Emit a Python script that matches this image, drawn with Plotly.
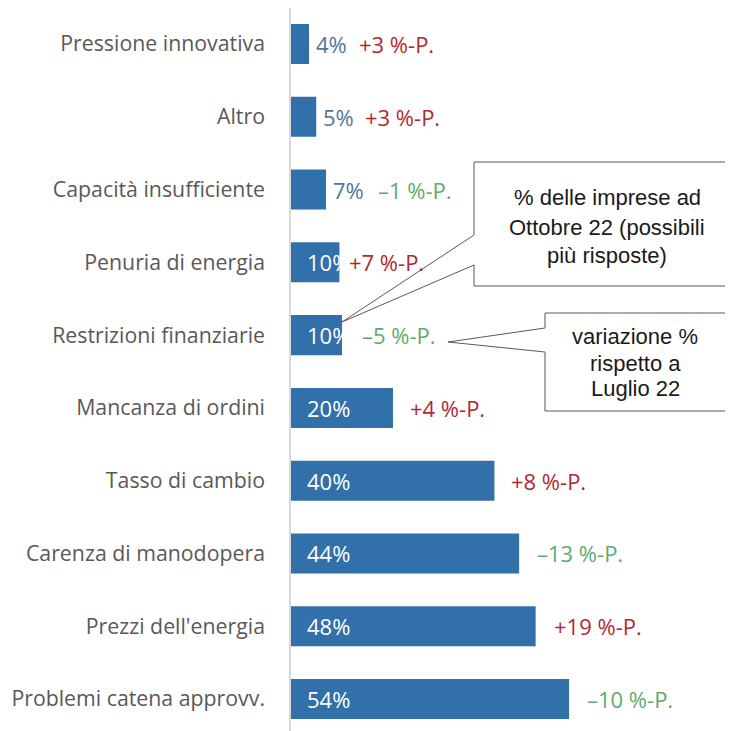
import plotly.graph_objects as go

# ---- data ----
categories = ["Pressione innovativa", "Altro", "Capacità insufficiente", "Penuria di energia",
              "Restrizioni finanziarie", "Mancanza di ordini", "Tasso di cambio",
              "Carenza di manodopera", "Prezzi dell'energia", "Problemi catena approvv."]
share_values = [3.5, 4.9, 6.8, 9.4, 9.9, 19.8, 39.5, 44.3, 47.5, 54.0]
share_labels = ["4%", "5%", "7%", "10%", "10%", "20%", "40%", "44%", "48%", "54%"]
change_values = [3, 3, -1, 7, -5, 4, 8, -13, 19, -10]
change_labels = ["+3 %-P.", "+3 %-P.", "\u20131 %-P.", "+7 %-P.", "\u20135 %-P.",
                 "+4 %-P.", "+8 %-P.", "\u201313 %-P.", "+19 %-P.", "\u201310 %-P."]
callout1_lines = ["% delle imprese ad", "Ottobre 22 (possibili", "più risposte)"]
callout2_lines = ["variazione %", "rispetto a", "Luglio 22"]

# ---- style / layout ----
W, H = 733, 731
OFF = 8                      # page body margin in the browser
ML, MT, MB = 283, 0, 0
PW, PH = W - ML, H - MT - MB
PLOT_LEFT = OFF + ML         # page px
PLOT_TOP = OFF + MT
PLOT_BOTTOM = PLOT_TOP + PH
PX_PER_CAT = 72.78
FIRST_CENTER, LAST_CENTER = 44, 699
BAR = "#3170a8"
RED = "#b3282e"
GREEN = "#5cad6c"
OUT_BLUE = "#52769c"
GRAY = "#595959"
FONT = "Open Sans"
FS = 22
FS_CAT = 21.3
delta_shift = [50, 49, 52, 10, 20, 17, 17, 18, 18, 18]  # px after bar end
callout1_y = [197, 227, 255]
callout2_y = [337, 363, 388]


def px(x):
    return (x - PLOT_LEFT) / PW


def py(y):
    return 1 - (y - PLOT_TOP) / PH


fig = go.Figure(go.Bar(
    x=share_values, y=list(range(len(categories))), orientation="h",
    marker=dict(color=BAR, line=dict(width=0)), width=0.55, hoverinfo="skip"))

ann = []
for i, (v, lab, cl, cv) in enumerate(zip(share_values, share_labels, change_labels, change_values)):
    inside = v >= 9
    if inside:
        ann.append(dict(x=0, y=i, xref="x", yref="y", text=lab, showarrow=False,
                        xanchor="left", yanchor="middle", xshift=14,
                        font=dict(family=FONT, size=FS, color="white")))
    else:
        ann.append(dict(x=v, y=i, xref="x", yref="y", text=lab, showarrow=False,
                        xanchor="left", yanchor="middle", xshift=5,
                        font=dict(family=FONT, size=FS, color=OUT_BLUE)))
    ann.append(dict(x=v, y=i, xref="x", yref="y", text=cl, showarrow=False,
                    xanchor="left", yanchor="middle", xshift=delta_shift[i] - 2,
                    font=dict(family=FONT, size=FS, color=RED if cv > 0 else GREEN)))


def path(points):
    return "M " + " L ".join(f"{px(x):.5f},{py(y):.5f}" for x, y in points) + " Z"


shapes = [
    dict(type="path", xref="paper", yref="paper", layer="above",
         path=path([(474, 162), (760, 162), (760, 286), (474, 286), (474, 265), (342, 322), (474, 235)]),
         fillcolor="white", line=dict(color=GRAY, width=1)),
    dict(type="path", xref="paper", yref="paper", layer="above",
         path=path([(545, 313), (726, 313), (726, 411), (545, 411), (545, 352), (448, 342), (545, 328)]),
         fillcolor="white", line=dict(color=GRAY, width=1)),
]
for t, y in zip(callout1_lines, callout1_y):
    ann.append(dict(x=px(607), y=py(y), xref="paper", yref="paper", text=t, showarrow=False,
                    xanchor="center", yanchor="middle",
                    font=dict(family="Liberation Sans", size=22, color="#1a1a1a")))
for t, y in zip(callout2_lines, callout2_y):
    ann.append(dict(x=px(635), y=py(y), xref="paper", yref="paper", text=t, showarrow=False,
                    xanchor="center", yanchor="middle",
                    font=dict(family="Liberation Sans", size=22, color="#1a1a1a")))

y_top = -(FIRST_CENTER - PLOT_TOP) / PX_PER_CAT
y_bot = (len(categories) - 1) + (PLOT_BOTTOM - LAST_CENTER) / PX_PER_CAT

fig.update_layout(
    width=W, height=H, margin=dict(l=ML, r=0, t=MT, b=MB, autoexpand=False),
    paper_bgcolor="white", plot_bgcolor="white", showlegend=False,
    xaxis=dict(range=[0, PW / 5.15], visible=False, fixedrange=True, automargin=False),
    yaxis=dict(range=[y_bot, y_top], tickmode="array", automargin=False,
               tickvals=list(range(len(categories))), ticktext=categories,
               showline=True, linecolor="#d9d9d9", linewidth=1.5, showgrid=False, zeroline=False,
               ticks="", ticklabelstandoff=20,
               tickfont=dict(family=FONT, size=FS_CAT, color=GRAY)),
    shapes=shapes, annotations=ann,
)
fig.write_html("out.html")
